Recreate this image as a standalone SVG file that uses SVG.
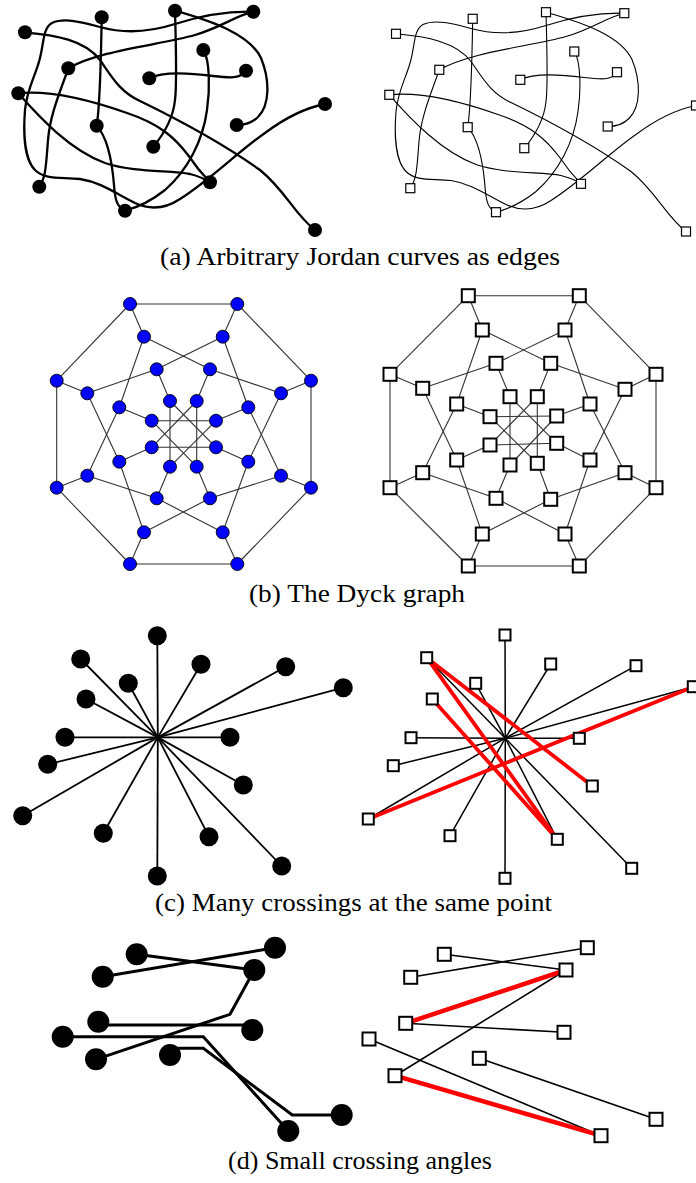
<svg xmlns="http://www.w3.org/2000/svg" xmlns:xlink="http://www.w3.org/1999/xlink" width="696" height="1183" viewBox="0 0 696 1183">
<style>
.n{fill:#000}
.c1{fill:none;stroke:#000;stroke-width:2.3}
.c2{fill:none;stroke:#000;stroke-width:1.1}
.s1{fill:#fff;stroke:#000;stroke-width:1.2}
.bn{fill:#0000ff;stroke:#000;stroke-width:0.9}
.be{stroke:#333;stroke-width:1.1}
.s2{fill:#fff;stroke:#000;stroke-width:2}
.ce{stroke:#000;stroke-width:1.8}
.ce2{stroke:#000;stroke-width:1.5}
.cr{stroke:#ff0000;stroke-width:3.8}
.de{fill:none;stroke:#000;stroke-width:3;stroke-linejoin:miter}
.de2{stroke:#000;stroke-width:1.6}
.dr{stroke:#ff0000;stroke-width:4.5}
.cap{font-family:"Liberation Serif",serif;font-size:25px;fill:#000}
</style>
<defs>
<rect id="q9" x="-4.5" y="-4.5" width="9" height="9"/>
<rect id="q11" x="-5.5" y="-5.5" width="11" height="11"/>
<rect id="q13" x="-6.5" y="-6.5" width="13" height="13"/>
</defs>

<!-- ===== (a) ===== -->
<g id="connectors-a-left" class="c1">
<path d="M101.7,17.3 C101,60 100,105 96.7,125.7"/>
<path d="M175,10.7 C176,45 177,85 175,100 C173,120 163,135 153.3,146.7"/>
<path d="M175,10.7 C215,22 250,35 261,58 C270,80 270,105 258,117 C252,123 244,125 236.7,125"/>
<path d="M253.3,11.7 C235,16 222,27 195,35 C160,45 100,50 68.3,68.3"/>
<path d="M253.3,11.7 C225,11 200,16 175,24 C150,32 125,34 100,27 C85,23 65,17 52,23 C43,28 44,42 40,58 C36,75 27,88 25,110 C23,135 25,160 35,170 C45,180 60,177 80,179 C100,182 115,193 135,203 C150,210 165,209 180,199 C210,180 240,150 265,133 C285,118 305,108 325,104"/>
<path d="M25,32.3 C55,35 85,40 100,60 C112,77 120,92 140,101 C175,118 225,145 260,170 C285,190 295,215 315,230"/>
<path d="M68.3,68.3 C60,92 50,115 48,140 C46,165 46,177 39.3,186.7"/>
<path d="M149.3,78.3 C163,71 190,73 213,76 C230,78 241,79 246,70.7"/>
<path d="M203.3,50 C210,60 210,90 207,110 C203,140 188,170 165,190 C150,202 135,208 125,210.7"/>
<path d="M18.3,93.3 C50,90 90,100 127,113 C160,124 175,138 188,155 C196,167 204,176 210,182.3"/>
<path d="M18.3,93.3 C40,118 70,150 105,163 C135,173 170,170 190,174 C198,176 205,179 210,182.3"/>
<path d="M96.7,125.7 C108,138 112,160 114,185 C115,200 117,207 125,210.7"/>
</g>
<g id="connectors-a-right" class="c2" transform="translate(371,1.5)">
<path d="M101.7,17.3 C101,60 100,105 96.7,125.7"/>
<path d="M175,10.7 C176,45 177,85 175,100 C173,120 163,135 153.3,146.7"/>
<path d="M175,10.7 C215,22 250,35 261,58 C270,80 270,105 258,117 C252,123 244,125 236.7,125"/>
<path d="M253.3,11.7 C235,16 222,27 195,35 C160,45 100,50 68.3,68.3"/>
<path d="M253.3,11.7 C225,11 200,16 175,24 C150,32 125,34 100,27 C85,23 65,17 52,23 C43,28 44,42 40,58 C36,75 27,88 25,110 C23,135 25,160 35,170 C45,180 60,177 80,179 C100,182 115,193 135,203 C150,210 165,209 180,199 C210,180 240,150 265,133 C285,118 305,108 325,104"/>
<path d="M25,32.3 C55,35 85,40 100,60 C112,77 120,92 140,101 C175,118 225,145 260,170 C285,190 295,215 315,230"/>
<path d="M68.3,68.3 C60,92 50,115 48,140 C46,165 46,177 39.3,186.7"/>
<path d="M149.3,78.3 C163,71 190,73 213,76 C230,78 241,79 246,70.7"/>
<path d="M203.3,50 C210,60 210,90 207,110 C203,140 188,170 165,190 C150,202 135,208 125,210.7"/>
<path d="M18.3,93.3 C50,90 90,100 127,113 C160,124 175,138 188,155 C196,167 204,176 210,182.3"/>
<path d="M18.3,93.3 C40,118 70,150 105,163 C135,173 170,170 190,174 C198,176 205,179 210,182.3"/>
<path d="M96.7,125.7 C108,138 112,160 114,185 C115,200 117,207 125,210.7"/>
</g>
<g class="n">
<g id="aL-A"><circle cx="101.7" cy="17.3" r="7"/></g>
<g id="aL-B"><circle cx="175" cy="10.7" r="7"/></g>
<g id="aL-C"><circle cx="253.3" cy="11.7" r="7"/></g>
<g id="aL-D"><circle cx="25" cy="32.3" r="7"/></g>
<g id="aL-E"><circle cx="203.3" cy="50" r="7"/></g>
<g id="aL-F"><circle cx="68.3" cy="68.3" r="7"/></g>
<g id="aL-G"><circle cx="149.3" cy="78.3" r="7"/></g>
<g id="aL-H"><circle cx="246" cy="70.7" r="7"/></g>
<g id="aL-I"><circle cx="18.3" cy="93.3" r="7"/></g>
<g id="aL-J"><circle cx="325" cy="104" r="7"/></g>
<g id="aL-K"><circle cx="96.7" cy="125.7" r="7"/></g>
<g id="aL-L"><circle cx="236.7" cy="125" r="7"/></g>
<g id="aL-M"><circle cx="153.3" cy="146.7" r="7"/></g>
<g id="aL-N"><circle cx="39.3" cy="186.7" r="7"/></g>
<g id="aL-O"><circle cx="210" cy="182.3" r="7"/></g>
<g id="aL-P"><circle cx="125" cy="210.7" r="7"/></g>
<g id="aL-Q"><circle cx="315" cy="230" r="7"/></g>
</g>
<g class="s1" transform="translate(371,1.5)">
<g id="aR-A"><use href="#q9" x="101.7" y="17.3"/></g>
<g id="aR-B"><use href="#q9" x="175" y="10.7"/></g>
<g id="aR-C"><use href="#q9" x="253.3" y="11.7"/></g>
<g id="aR-D"><use href="#q9" x="25" y="32.3"/></g>
<g id="aR-E"><use href="#q9" x="203.3" y="50"/></g>
<g id="aR-F"><use href="#q9" x="68.3" y="68.3"/></g>
<g id="aR-G"><use href="#q9" x="149.3" y="78.3"/></g>
<g id="aR-H"><use href="#q9" x="246" y="70.7"/></g>
<g id="aR-I"><use href="#q9" x="18.3" y="93.3"/></g>
<g id="aR-J"><use href="#q9" x="325" y="104"/></g>
<g id="aR-K"><use href="#q9" x="96.7" y="125.7"/></g>
<g id="aR-L"><use href="#q9" x="236.7" y="125"/></g>
<g id="aR-M"><use href="#q9" x="153.3" y="146.7"/></g>
<g id="aR-N"><use href="#q9" x="39.3" y="186.7"/></g>
<g id="aR-O"><use href="#q9" x="210" y="182.3"/></g>
<g id="aR-P"><use href="#q9" x="125" y="210.7"/></g>
<g id="aR-Q"><use href="#q9" x="315" y="230"/></g>
</g>
<text class="cap" x="160" y="265" textLength="400" lengthAdjust="spacingAndGlyphs">(a) Arbitrary Jordan curves as edges</text>

<!-- ===== (b) ===== -->
<g id="connectors-b-left" class="be">
<line x1="130" y1="304" x2="237.3" y2="304"/>
<line x1="237.3" y1="304" x2="311" y2="380.7"/>
<line x1="311" y1="380.7" x2="311" y2="487.7"/>
<line x1="311" y1="487.7" x2="237.3" y2="564"/>
<line x1="237.3" y1="564" x2="130" y2="564"/>
<line x1="130" y1="564" x2="56.7" y2="487.7"/>
<line x1="56.7" y1="487.7" x2="56.7" y2="380.7"/>
<line x1="56.7" y1="380.7" x2="130" y2="304"/>
<line x1="130" y1="304" x2="144" y2="336.7"/>
<line x1="237.3" y1="304" x2="222.7" y2="336.7"/>
<line x1="311" y1="380.7" x2="281" y2="393.3"/>
<line x1="311" y1="487.7" x2="281" y2="475.7"/>
<line x1="237.3" y1="564" x2="222.7" y2="532.3"/>
<line x1="130" y1="564" x2="144" y2="532.3"/>
<line x1="56.7" y1="487.7" x2="87.3" y2="475.7"/>
<line x1="56.7" y1="380.7" x2="87.3" y2="393.3"/>
<line x1="144" y1="336.7" x2="210" y2="369.3"/>
<line x1="144" y1="336.7" x2="119.3" y2="407.3"/>
<line x1="222.7" y1="336.7" x2="248.3" y2="407.3"/>
<line x1="222.7" y1="336.7" x2="156.7" y2="369.3"/>
<line x1="281" y1="393.3" x2="248.3" y2="461.7"/>
<line x1="281" y1="393.3" x2="210" y2="369.3"/>
<line x1="281" y1="475.7" x2="210" y2="498.3"/>
<line x1="281" y1="475.7" x2="248.3" y2="407.3"/>
<line x1="222.7" y1="532.3" x2="156.7" y2="498.3"/>
<line x1="222.7" y1="532.3" x2="248.3" y2="461.7"/>
<line x1="144" y1="532.3" x2="119.3" y2="461.7"/>
<line x1="144" y1="532.3" x2="210" y2="498.3"/>
<line x1="87.3" y1="475.7" x2="119.3" y2="407.3"/>
<line x1="87.3" y1="475.7" x2="156.7" y2="498.3"/>
<line x1="87.3" y1="393.3" x2="156.7" y2="369.3"/>
<line x1="87.3" y1="393.3" x2="119.3" y2="461.7"/>
<line x1="156.7" y1="369.3" x2="170" y2="401"/>
<line x1="210" y1="369.3" x2="196.7" y2="401"/>
<line x1="248.3" y1="407.3" x2="216" y2="420.7"/>
<line x1="248.3" y1="461.7" x2="216" y2="447.3"/>
<line x1="210" y1="498.3" x2="196.7" y2="466.7"/>
<line x1="156.7" y1="498.3" x2="170" y2="466.7"/>
<line x1="119.3" y1="461.7" x2="151.7" y2="447.3"/>
<line x1="119.3" y1="407.3" x2="151.7" y2="420.7"/>
<line x1="170" y1="401" x2="216" y2="447.3"/>
<line x1="196.7" y1="401" x2="196.7" y2="466.7"/>
<line x1="216" y1="420.7" x2="170" y2="466.7"/>
<line x1="216" y1="447.3" x2="151.7" y2="447.3"/>
<line x1="196.7" y1="466.7" x2="151.7" y2="420.7"/>
<line x1="170" y1="466.7" x2="170" y2="401"/>
<line x1="151.7" y1="447.3" x2="196.7" y2="401"/>
<line x1="151.7" y1="420.7" x2="216" y2="420.7"/>
</g>
<g id="connectors-b-right" class="be">
<line x1="468.3" y1="295.7" x2="579.3" y2="295.7"/>
<line x1="579.3" y1="295.7" x2="656" y2="374.3"/>
<line x1="656" y1="374.3" x2="656" y2="487.7"/>
<line x1="656" y1="487.7" x2="579.3" y2="566"/>
<line x1="579.3" y1="566" x2="468.3" y2="566"/>
<line x1="468.3" y1="566" x2="390" y2="487.7"/>
<line x1="390" y1="487.7" x2="390" y2="374.3"/>
<line x1="390" y1="374.3" x2="468.3" y2="295.7"/>
<line x1="468.3" y1="295.7" x2="482.3" y2="330"/>
<line x1="579.3" y1="295.7" x2="565" y2="330"/>
<line x1="656" y1="374.3" x2="625" y2="389.3"/>
<line x1="656" y1="487.7" x2="625" y2="472.7"/>
<line x1="579.3" y1="566" x2="565" y2="534"/>
<line x1="468.3" y1="566" x2="482.3" y2="534"/>
<line x1="390" y1="487.7" x2="422.7" y2="472.7"/>
<line x1="390" y1="374.3" x2="422.7" y2="388.3"/>
<line x1="482.3" y1="330" x2="550.7" y2="363.3"/>
<line x1="482.3" y1="330" x2="456.7" y2="404"/>
<line x1="565" y1="330" x2="590" y2="404"/>
<line x1="565" y1="330" x2="496" y2="363.3"/>
<line x1="625" y1="389.3" x2="590" y2="460"/>
<line x1="625" y1="389.3" x2="550.7" y2="363.3"/>
<line x1="625" y1="472.7" x2="550.7" y2="499.3"/>
<line x1="625" y1="472.7" x2="590" y2="404"/>
<line x1="565" y1="534" x2="496" y2="498.3"/>
<line x1="565" y1="534" x2="590" y2="460"/>
<line x1="482.3" y1="534" x2="456.7" y2="460"/>
<line x1="482.3" y1="534" x2="550.7" y2="499.3"/>
<line x1="422.7" y1="472.7" x2="456.7" y2="404"/>
<line x1="422.7" y1="472.7" x2="496" y2="498.3"/>
<line x1="422.7" y1="388.3" x2="496" y2="363.3"/>
<line x1="422.7" y1="388.3" x2="456.7" y2="460"/>
<line x1="496" y1="363.3" x2="510" y2="396.7"/>
<line x1="550.7" y1="363.3" x2="537.3" y2="396.7"/>
<line x1="590" y1="404" x2="556.7" y2="416"/>
<line x1="590" y1="460" x2="556.7" y2="443.3"/>
<line x1="550.7" y1="499.3" x2="537.3" y2="463.3"/>
<line x1="496" y1="498.3" x2="510" y2="465"/>
<line x1="456.7" y1="460" x2="490" y2="445"/>
<line x1="456.7" y1="404" x2="490" y2="416.7"/>
<line x1="510" y1="396.7" x2="556.7" y2="443.3"/>
<line x1="537.3" y1="396.7" x2="537.3" y2="463.3"/>
<line x1="556.7" y1="416" x2="510" y2="465"/>
<line x1="556.7" y1="443.3" x2="490" y2="445"/>
<line x1="537.3" y1="463.3" x2="490" y2="416.7"/>
<line x1="510" y1="465" x2="510" y2="396.7"/>
<line x1="490" y1="445" x2="537.3" y2="396.7"/>
<line x1="490" y1="416.7" x2="556.7" y2="416"/>
</g>
<g class="bn">
<g id="bL-O0"><circle cx="130" cy="304" r="6.5"/></g>
<g id="bL-O1"><circle cx="237.3" cy="304" r="6.5"/></g>
<g id="bL-O2"><circle cx="311" cy="380.7" r="6.5"/></g>
<g id="bL-O3"><circle cx="311" cy="487.7" r="6.5"/></g>
<g id="bL-O4"><circle cx="237.3" cy="564" r="6.5"/></g>
<g id="bL-O5"><circle cx="130" cy="564" r="6.5"/></g>
<g id="bL-O6"><circle cx="56.7" cy="487.7" r="6.5"/></g>
<g id="bL-O7"><circle cx="56.7" cy="380.7" r="6.5"/></g>
<g id="bL-S0"><circle cx="144" cy="336.7" r="6.5"/></g>
<g id="bL-S1"><circle cx="222.7" cy="336.7" r="6.5"/></g>
<g id="bL-S2"><circle cx="281" cy="393.3" r="6.5"/></g>
<g id="bL-S3"><circle cx="281" cy="475.7" r="6.5"/></g>
<g id="bL-S4"><circle cx="222.7" cy="532.3" r="6.5"/></g>
<g id="bL-S5"><circle cx="144" cy="532.3" r="6.5"/></g>
<g id="bL-S6"><circle cx="87.3" cy="475.7" r="6.5"/></g>
<g id="bL-S7"><circle cx="87.3" cy="393.3" r="6.5"/></g>
<g id="bL-T0"><circle cx="156.7" cy="369.3" r="6.5"/></g>
<g id="bL-T1"><circle cx="210" cy="369.3" r="6.5"/></g>
<g id="bL-T2"><circle cx="248.3" cy="407.3" r="6.5"/></g>
<g id="bL-T3"><circle cx="248.3" cy="461.7" r="6.5"/></g>
<g id="bL-T4"><circle cx="210" cy="498.3" r="6.5"/></g>
<g id="bL-T5"><circle cx="156.7" cy="498.3" r="6.5"/></g>
<g id="bL-T6"><circle cx="119.3" cy="461.7" r="6.5"/></g>
<g id="bL-T7"><circle cx="119.3" cy="407.3" r="6.5"/></g>
<g id="bL-U0"><circle cx="170" cy="401" r="6.5"/></g>
<g id="bL-U1"><circle cx="196.7" cy="401" r="6.5"/></g>
<g id="bL-U2"><circle cx="216" cy="420.7" r="6.5"/></g>
<g id="bL-U3"><circle cx="216" cy="447.3" r="6.5"/></g>
<g id="bL-U4"><circle cx="196.7" cy="466.7" r="6.5"/></g>
<g id="bL-U5"><circle cx="170" cy="466.7" r="6.5"/></g>
<g id="bL-U6"><circle cx="151.7" cy="447.3" r="6.5"/></g>
<g id="bL-U7"><circle cx="151.7" cy="420.7" r="6.5"/></g>
</g>
<g class="s2">
<g id="bR-O0"><use href="#q13" x="468.3" y="295.7"/></g>
<g id="bR-O1"><use href="#q13" x="579.3" y="295.7"/></g>
<g id="bR-O2"><use href="#q13" x="656" y="374.3"/></g>
<g id="bR-O3"><use href="#q13" x="656" y="487.7"/></g>
<g id="bR-O4"><use href="#q13" x="579.3" y="566"/></g>
<g id="bR-O5"><use href="#q13" x="468.3" y="566"/></g>
<g id="bR-O6"><use href="#q13" x="390" y="487.7"/></g>
<g id="bR-O7"><use href="#q13" x="390" y="374.3"/></g>
<g id="bR-S0"><use href="#q13" x="482.3" y="330"/></g>
<g id="bR-S1"><use href="#q13" x="565" y="330"/></g>
<g id="bR-S2"><use href="#q13" x="625" y="389.3"/></g>
<g id="bR-S3"><use href="#q13" x="625" y="472.7"/></g>
<g id="bR-S4"><use href="#q13" x="565" y="534"/></g>
<g id="bR-S5"><use href="#q13" x="482.3" y="534"/></g>
<g id="bR-S6"><use href="#q13" x="422.7" y="472.7"/></g>
<g id="bR-S7"><use href="#q13" x="422.7" y="388.3"/></g>
<g id="bR-T0"><use href="#q13" x="496" y="363.3"/></g>
<g id="bR-T1"><use href="#q13" x="550.7" y="363.3"/></g>
<g id="bR-T2"><use href="#q13" x="590" y="404"/></g>
<g id="bR-T3"><use href="#q13" x="590" y="460"/></g>
<g id="bR-T4"><use href="#q13" x="550.7" y="499.3"/></g>
<g id="bR-T5"><use href="#q13" x="496" y="498.3"/></g>
<g id="bR-T6"><use href="#q13" x="456.7" y="460"/></g>
<g id="bR-T7"><use href="#q13" x="456.7" y="404"/></g>
<g id="bR-U0"><use href="#q13" x="510" y="396.7"/></g>
<g id="bR-U1"><use href="#q13" x="537.3" y="396.7"/></g>
<g id="bR-U2"><use href="#q13" x="556.7" y="416"/></g>
<g id="bR-U3"><use href="#q13" x="556.7" y="443.3"/></g>
<g id="bR-U4"><use href="#q13" x="537.3" y="463.3"/></g>
<g id="bR-U5"><use href="#q13" x="510" y="465"/></g>
<g id="bR-U6"><use href="#q13" x="490" y="445"/></g>
<g id="bR-U7"><use href="#q13" x="490" y="416.7"/></g>
</g>
<text class="cap" x="249" y="602" textLength="216" lengthAdjust="spacingAndGlyphs">(b) The Dyck graph</text>

<!-- ===== (c) ===== -->
<g id="connectors-c-left" class="ce">
<line x1="157.8" y1="737.4" x2="157.3" y2="635.7"/>
<line x1="157.8" y1="737.4" x2="80.7" y2="659"/>
<line x1="157.8" y1="737.4" x2="128.3" y2="683.3"/>
<line x1="157.8" y1="737.4" x2="86" y2="699"/>
<line x1="157.8" y1="737.4" x2="201" y2="664.3"/>
<line x1="157.8" y1="737.4" x2="285.7" y2="666.7"/>
<line x1="157.8" y1="737.4" x2="343.3" y2="687.7"/>
<line x1="157.8" y1="737.4" x2="65" y2="737.3"/>
<line x1="157.8" y1="737.4" x2="230" y2="737.3"/>
<line x1="157.8" y1="737.4" x2="47.7" y2="764.3"/>
<line x1="157.8" y1="737.4" x2="243.3" y2="785"/>
<line x1="157.8" y1="737.4" x2="22.7" y2="815.7"/>
<line x1="157.8" y1="737.4" x2="103.3" y2="833.3"/>
<line x1="157.8" y1="737.4" x2="209" y2="836.7"/>
<line x1="157.8" y1="737.4" x2="281.7" y2="866"/>
<line x1="157.8" y1="737.4" x2="157.3" y2="876"/>
</g>
<g id="connectors-c-right">
<g class="ce2">
<line x1="505.3" y1="738.2" x2="505" y2="635"/>
<line x1="505.3" y1="738.2" x2="505" y2="878.3"/>
<line x1="505.3" y1="738.2" x2="411" y2="737.7"/>
<line x1="505.3" y1="738.2" x2="579.3" y2="738.3"/>
<line x1="505.3" y1="738.2" x2="550.7" y2="664"/>
<line x1="505.3" y1="738.2" x2="450" y2="835.7"/>
<line x1="505.3" y1="738.2" x2="636" y2="665.7"/>
<line x1="505.3" y1="738.2" x2="368.3" y2="819"/>
<line x1="505.3" y1="738.2" x2="693.3" y2="686.7"/>
<line x1="505.3" y1="738.2" x2="393.3" y2="765.7"/>
<line x1="505.3" y1="738.2" x2="475.7" y2="683.3"/>
<line x1="505.3" y1="738.2" x2="557.3" y2="839.3"/>
<line x1="505.3" y1="738.2" x2="426.7" y2="657.7"/>
<line x1="505.3" y1="738.2" x2="631.7" y2="868.3"/>
</g>
<g class="cr">
<line x1="426.7" y1="657.7" x2="592.3" y2="786"/>
<line x1="426.7" y1="657.7" x2="557.3" y2="839.3"/>
<line x1="432.3" y1="699" x2="557.3" y2="839.3"/>
<line x1="693.3" y1="686.7" x2="368.3" y2="819"/>
</g>
</g>
<g class="n">
<g id="cL-1"><circle cx="157.3" cy="635.7" r="9.5"/></g>
<g id="cL-2"><circle cx="80.7" cy="659" r="9.5"/></g>
<g id="cL-3"><circle cx="128.3" cy="683.3" r="9.5"/></g>
<g id="cL-4"><circle cx="86" cy="699" r="9.5"/></g>
<g id="cL-5"><circle cx="201" cy="664.3" r="9.5"/></g>
<g id="cL-6"><circle cx="285.7" cy="666.7" r="9.5"/></g>
<g id="cL-7"><circle cx="343.3" cy="687.7" r="9.5"/></g>
<g id="cL-8"><circle cx="65" cy="737.3" r="9.5"/></g>
<g id="cL-9"><circle cx="230" cy="737.3" r="9.5"/></g>
<g id="cL-10"><circle cx="47.7" cy="764.3" r="9.5"/></g>
<g id="cL-11"><circle cx="243.3" cy="785" r="9.5"/></g>
<g id="cL-12"><circle cx="22.7" cy="815.7" r="9.5"/></g>
<g id="cL-13"><circle cx="103.3" cy="833.3" r="9.5"/></g>
<g id="cL-14"><circle cx="209" cy="836.7" r="9.5"/></g>
<g id="cL-15"><circle cx="281.7" cy="866" r="9.5"/></g>
<g id="cL-16"><circle cx="157.3" cy="876" r="9.5"/></g>
</g>
<g class="s2">
<g id="cR-1"><use href="#q11" x="505" y="635"/></g>
<g id="cR-2"><use href="#q11" x="426.7" y="657.7"/></g>
<g id="cR-3"><use href="#q11" x="475.7" y="683.3"/></g>
<g id="cR-4"><use href="#q11" x="432.3" y="699"/></g>
<g id="cR-5"><use href="#q11" x="550.7" y="664"/></g>
<g id="cR-6"><use href="#q11" x="636" y="665.7"/></g>
<g id="cR-7"><use href="#q11" x="693.3" y="686.7"/></g>
<g id="cR-8"><use href="#q11" x="411" y="737.7"/></g>
<g id="cR-9"><use href="#q11" x="579.3" y="738.3"/></g>
<g id="cR-10"><use href="#q11" x="393.3" y="765.7"/></g>
<g id="cR-11"><use href="#q11" x="592.3" y="786"/></g>
<g id="cR-12"><use href="#q11" x="368.3" y="819"/></g>
<g id="cR-13"><use href="#q11" x="450" y="835.7"/></g>
<g id="cR-14"><use href="#q11" x="557.3" y="839.3"/></g>
<g id="cR-15"><use href="#q11" x="631.7" y="868.3"/></g>
<g id="cR-16"><use href="#q11" x="505" y="878.3"/></g>
</g>
<text class="cap" x="155" y="911" textLength="397" lengthAdjust="spacingAndGlyphs">(c) Many crossings at the same point</text>

<!-- ===== (d) ===== -->
<g id="connectors-d-left" class="de">
<path d="M136.7,954.3 L254.3,970"/>
<path d="M102.7,976.7 L275,947.7"/>
<path d="M254.3,970 L230,1014.3 L96,1059.3"/>
<path d="M98.3,1025 L252.3,1025"/>
<path d="M62.7,1036.7 L203.3,1036.7 L288.3,1131"/>
<path d="M170,1048.3 L203.3,1048.3 L292.3,1115 L341.7,1115"/>
</g>
<g id="connectors-d-right">
<g class="de2">
<line x1="444.3" y1="954.3" x2="566" y2="970"/>
<line x1="410.7" y1="977.3" x2="587.3" y2="947.7"/>
<line x1="405.7" y1="1023.3" x2="564" y2="1032.3"/>
<line x1="395" y1="1075.7" x2="566" y2="970"/>
<line x1="369" y1="1039" x2="601" y2="1135.7"/>
<line x1="479.3" y1="1058.3" x2="656" y2="1119.3"/>
</g>
<g class="dr">
<line x1="405.7" y1="1023.3" x2="566" y2="970"/>
<line x1="395" y1="1075.7" x2="601" y2="1135.7"/>
</g>
</g>
<g class="n">
<g id="dL-a"><circle cx="136.7" cy="954.3" r="11"/></g>
<g id="dL-b"><circle cx="275" cy="947.7" r="11"/></g>
<g id="dL-c"><circle cx="102.7" cy="976.7" r="11"/></g>
<g id="dL-d"><circle cx="254.3" cy="970" r="11"/></g>
<g id="dL-e"><circle cx="98.3" cy="1021.7" r="11"/></g>
<g id="dL-f"><circle cx="252.3" cy="1030" r="11"/></g>
<g id="dL-g"><circle cx="62.7" cy="1036.7" r="11"/></g>
<g id="dL-h"><circle cx="96" cy="1059.3" r="11"/></g>
<g id="dL-i"><circle cx="170" cy="1055" r="11"/></g>
<g id="dL-j"><circle cx="341.7" cy="1115" r="11"/></g>
<g id="dL-k"><circle cx="288.3" cy="1131" r="11"/></g>
</g>
<g class="s2">
<g id="dR-a"><use href="#q13" x="444.3" y="954.3"/></g>
<g id="dR-b"><use href="#q13" x="587.3" y="947.7"/></g>
<g id="dR-c"><use href="#q13" x="410.7" y="977.3"/></g>
<g id="dR-d"><use href="#q13" x="566" y="970"/></g>
<g id="dR-e"><use href="#q13" x="405.7" y="1023.3"/></g>
<g id="dR-f"><use href="#q13" x="564" y="1032.3"/></g>
<g id="dR-g"><use href="#q13" x="369" y="1039"/></g>
<g id="dR-h"><use href="#q13" x="395" y="1075.7"/></g>
<g id="dR-i"><use href="#q13" x="479.3" y="1058.3"/></g>
<g id="dR-j"><use href="#q13" x="656" y="1119.3"/></g>
<g id="dR-k"><use href="#q13" x="601" y="1135.7"/></g>
</g>
<text class="cap" x="228" y="1169" textLength="264" lengthAdjust="spacingAndGlyphs">(d) Small crossing angles</text>
</svg>
